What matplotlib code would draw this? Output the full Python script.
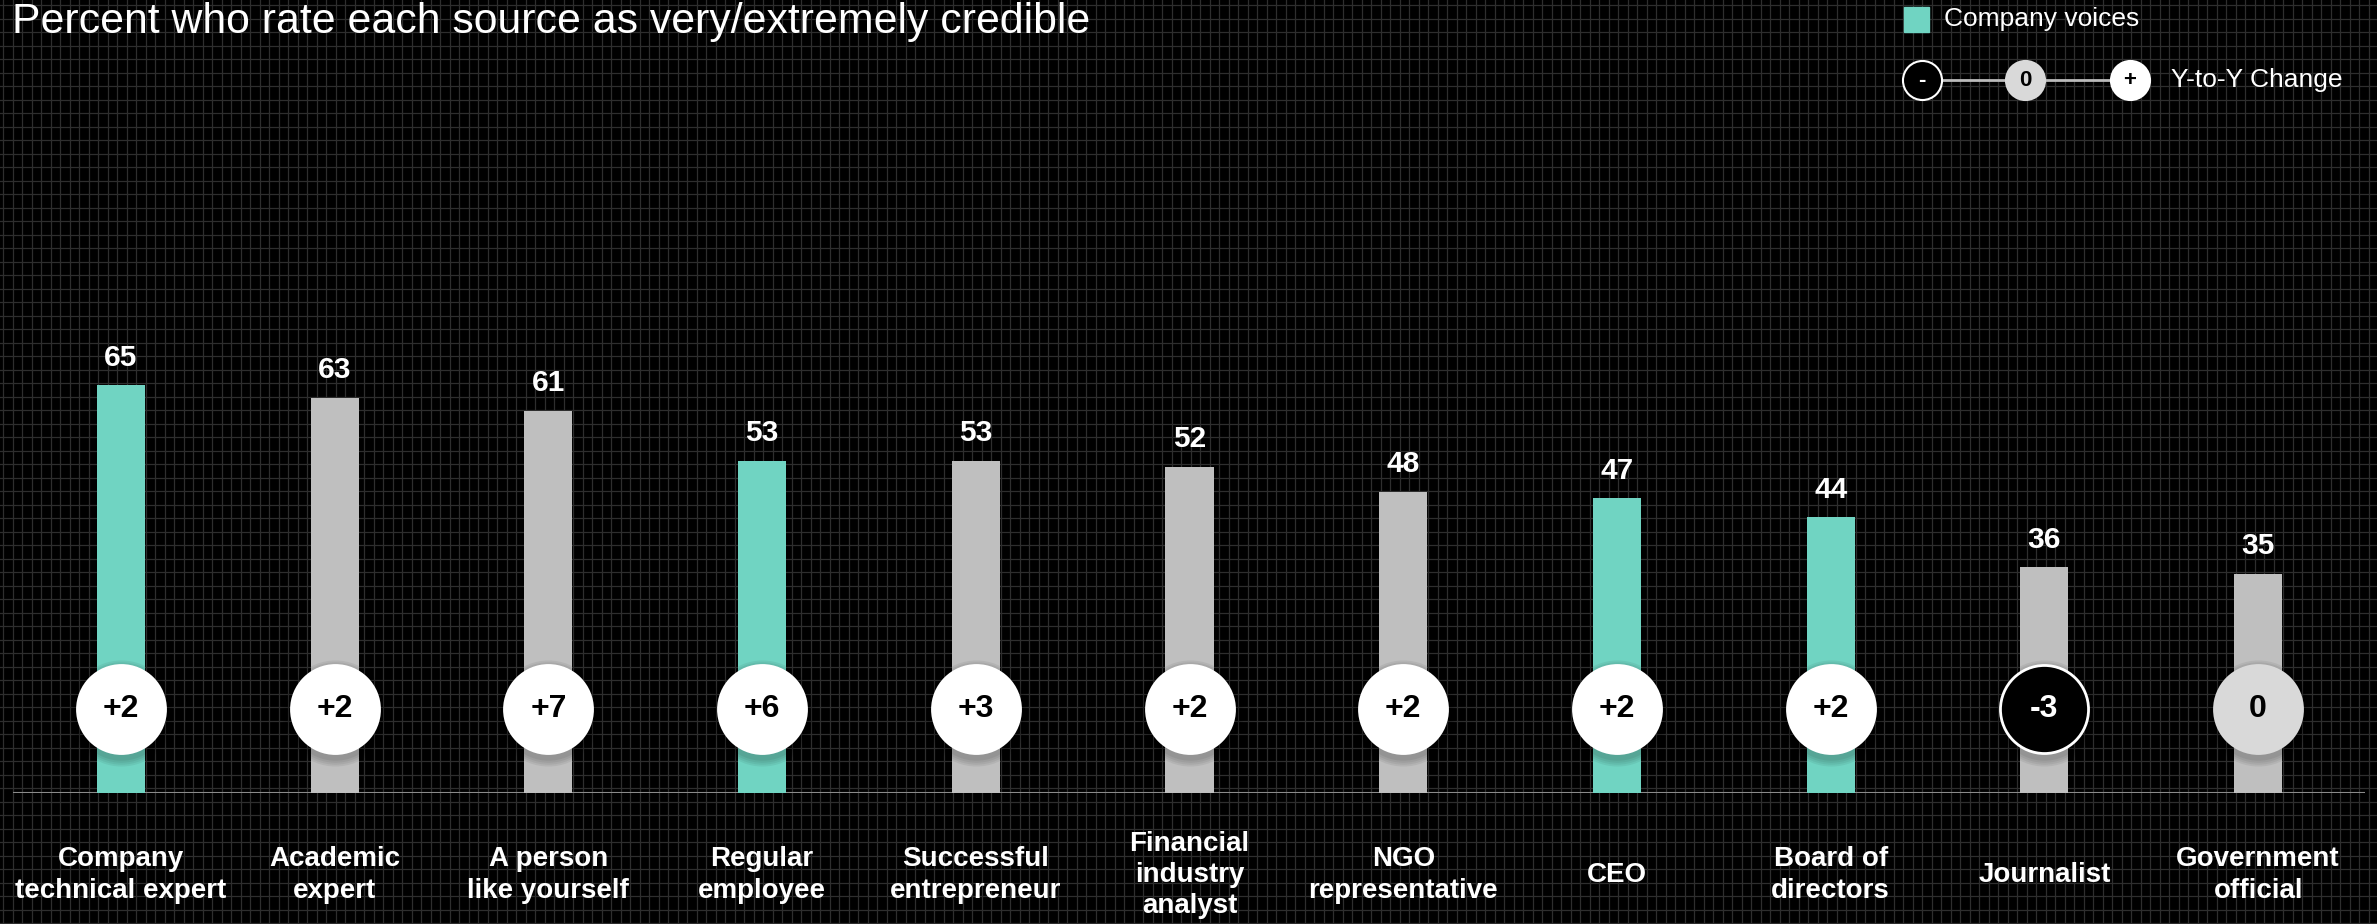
import numpy as np
import matplotlib.pyplot as plt

plt.rcParams['font.family'] = ['Liberation Sans', 'DejaVu Sans']

categories = ['Company\ntechnical expert', 'Academic\nexpert', 'A person\nlike yourself',
              'Regular\nemployee', 'Successful\nentrepreneur', 'Financial\nindustry\nanalyst',
              'NGO\nrepresentative', 'CEO', 'Board of\ndirectors', 'Journalist',
              'Government\nofficial']
values = [65, 63, 61, 53, 53, 52, 48, 47, 44, 36, 35]
changes = [2, 2, 7, 6, 3, 2, 2, 2, 2, -3, 0]
company_voice = [True, False, False, True, False, False, False, True, True, False, False]

TEAL = '#70d4c2'
GRAY = '#bfbfbf'
W, H = 2377, 924

fig = plt.figure(figsize=(W / 100, H / 100), dpi=100, facecolor='black')

# background grid, drawn in pixel space
bg = fig.add_axes([0, 0, 1, 1], zorder=0)
bg.set_xlim(0, W)
bg.set_ylim(H, 0)
bg.set_facecolor('black')
bg.axis('off')
for gx in np.arange(3, W, 9.5):
    bg.axvline(gx, color='#2e2e2e', lw=0.9)
for gy in np.arange(5, H, 13.5):
    bg.axhline(gy, color='#2e2e2e', lw=0.9)

# main axes: baseline at 793 px from top, 6.27 px per unit
ax = fig.add_axes([13 / W, 131 / H, 2352 / W, 627 / H], zorder=1)
ax.patch.set_alpha(0)
ax.set_xlim(-0.505, 10.5)
ax.set_ylim(0, 100)
ax.axis('off')
ax.axhline(0, color='#8a8a8a', lw=1.5, zorder=1)

x = np.arange(len(values))
colors = [TEAL if c else GRAY for c in company_voice]
ax.bar(x, values, width=0.225, color=colors, zorder=2)

circ_y = 13.4
for i, (v, ch) in enumerate(zip(values, changes)):
    ax.text(i, v + 4.4, str(v), ha='center', va='center', color='white',
            fontsize=21.5, fontweight='bold', zorder=5)
    # soft shadow around the change marker
    for k in range(4):
        ax.scatter(i, circ_y - 0.6, s=4020 * (1.45 - 0.1 * k), color='black',
                   alpha=0.06, lw=0, zorder=3)
    if ch > 0:
        fc, ec, tc, lab = 'white', 'white', 'black', '+%d' % ch
    elif ch < 0:
        fc, ec, tc, lab = 'black', 'white', 'white', '%d' % ch
    else:
        fc, ec, tc, lab = '#d9d9d9', '#d9d9d9', 'black', '0'
    ax.scatter(i, circ_y, s=4020, facecolor=fc, edgecolor=ec, lw=2, zorder=4)
    ax.text(i, circ_y, lab, ha='center', va='center', color=tc,
            fontsize=23, fontweight='bold', zorder=5)
    ax.text(i, -82 / 6.27, categories[i], ha='center', va='center', color='white',
            fontsize=20, fontweight='bold', linespacing=1.25, clip_on=False, zorder=5)

# title
fig.text(12 / W, 1 - 22 / H, 'Percent who rate each source as very/extremely credible',
         color='white', fontsize=30.8, va='center', ha='left')

# legend
lg = fig.add_axes([0, 0, 1, 1], zorder=2)
lg.set_xlim(0, W)
lg.set_ylim(H, 0)
lg.patch.set_alpha(0)
lg.axis('off')
lg.add_patch(plt.Rectangle((1904, 7), 25, 25, color=TEAL))
lg.text(1944, 19, 'Company voices', color='white', fontsize=19, va='center', ha='left')
lg.plot([1922, 2130], [80, 80], color='#bbbbbb', lw=2, zorder=1)
leg_marks = [(1922, 'black', 'white', 'white', '-'),
             (2025, '#d9d9d9', '#d9d9d9', 'black', '0'),
             (2130, 'white', 'white', 'black', '+')]
for lx, fc, ec, tc, lab in leg_marks:
    lg.scatter(lx, 80, s=790, facecolor=fc, edgecolor=ec, lw=1.5, zorder=2)
    lg.text(lx, 80, lab, color=tc, fontsize=16, fontweight='bold',
            ha='center', va='center', zorder=3)
lg.text(2171, 80, 'Y-to-Y Change', color='white', fontsize=19, va='center', ha='left')

fig.savefig('out.png', dpi=100, facecolor='black')
